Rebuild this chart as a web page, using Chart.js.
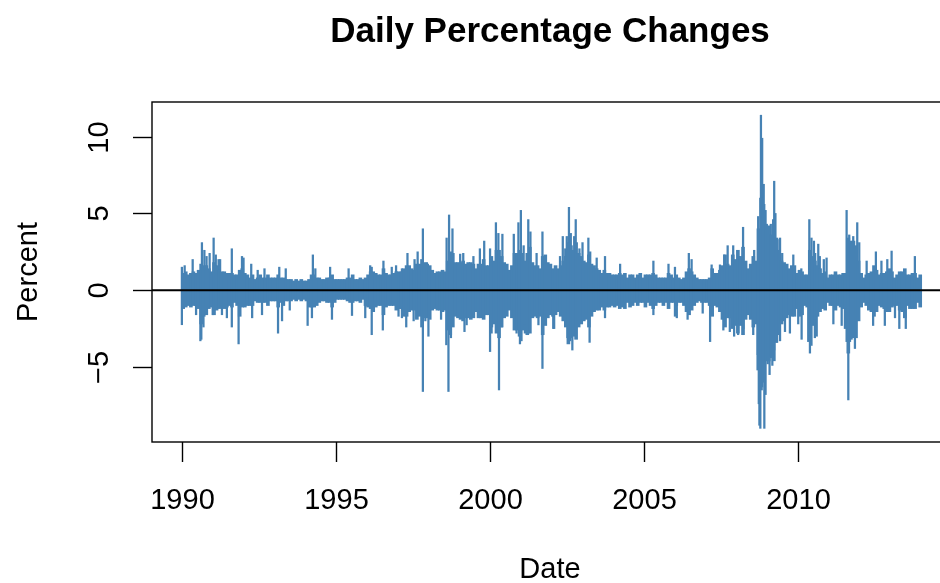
<!DOCTYPE html>
<html>
<head>
<meta charset="utf-8">
<script src="https://cdn.jsdelivr.net/npm/chart.js@4/dist/chart.umd.min.js"></script>
<style>
html,body{margin:0;padding:0;background:#fff;overflow:hidden;width:940px;height:583px;}
#wrap{width:960px;height:583px;}
</style>
</head>
<body>
<div id="wrap"><canvas id="myChart" width="960" height="583"></canvas></div>
<script>
// monthly core band of the daily changes, Jan 1990 .. Dec 2013 (percent)
var startYear = 1990;
var bandUp = [
 1.1,1.2,1.0,1.1,1.2,1.1,1.3,1.7,1.6,1.6,1.4,1.2,
 1.8,1.6,1.3,1.2,1.2,1.1,1.1,1.1,1.0,1.0,1.3,1.4,
 1.1,1.0,0.8,1.0,0.7,0.8,1.0,0.8,0.8,1.0,0.8,0.8,
 0.8,1.0,0.8,0.8,0.7,0.7,0.7,0.6,0.7,0.6,0.7,0.6,
 0.6,0.7,1.0,1.0,0.8,0.8,0.7,0.7,0.8,0.8,1.0,0.7,
 0.7,0.7,0.7,0.7,0.8,0.8,1.0,0.7,0.7,0.8,0.7,0.8,
 1.0,1.2,1.2,1.1,1.0,1.0,1.4,1.1,1.0,1.0,1.1,1.2,
 1.2,1.2,1.4,1.6,1.6,1.4,1.3,1.7,1.7,2.0,1.8,1.7,
 1.6,1.3,1.1,1.2,1.2,1.3,1.2,1.9,2.5,2.4,1.8,1.8,
 1.8,1.9,1.7,1.8,1.8,1.7,1.4,1.7,1.7,2.0,1.6,1.6,
 2.2,1.9,2.6,2.6,2.2,1.8,1.7,1.3,1.6,2.4,2.4,2.6,
 2.4,1.9,2.4,2.8,1.8,1.6,1.6,1.4,2.2,2.3,1.8,1.7,
 1.4,1.6,1.4,1.6,1.9,2.2,3.1,2.9,2.6,3.1,2.4,2.2,
 1.9,1.8,2.3,1.7,1.6,1.4,1.3,1.1,1.3,1.1,1.1,1.0,
 1.0,1.0,1.1,1.0,1.1,0.8,1.0,1.0,0.8,1.0,1.1,0.8,
 1.0,1.0,1.0,1.1,1.0,0.8,0.8,0.8,0.8,1.1,1.0,0.8,
 1.0,0.8,0.7,0.8,1.2,1.4,1.2,1.0,0.8,0.7,0.7,0.7,
 0.7,0.8,1.4,1.1,1.1,1.3,1.6,2.3,1.7,1.6,2.3,2.0,
 2.6,2.2,2.8,1.9,1.4,1.7,2.2,1.9,4.0,6.0,5.6,4.3,
 4.2,3.6,4.6,3.4,2.6,1.9,1.8,1.7,1.4,1.6,1.6,1.1,
 1.3,1.2,1.0,1.0,2.6,2.2,1.9,1.6,1.4,1.1,1.2,0.8,
 1.0,1.0,1.2,1.0,1.0,1.1,1.1,3.4,3.0,3.2,2.9,1.9,
 1.1,0.8,1.0,1.1,1.2,1.6,1.3,1.0,1.1,1.1,1.2,1.4,
 1.2,0.8,1.0,1.2,1.2,1.4,1.0,1.0,1.1,1.1,0.8,1.0
];
var bandDn = [
 -1.2,-1.1,-1.0,-1.1,-1.0,-1.0,-1.2,-2.2,-1.7,-1.6,-1.2,-1.1,
 -1.6,-1.3,-1.2,-1.1,-1.2,-1.1,-1.0,-1.1,-0.8,-1.0,-1.7,-1.1,
 -1.1,-1.0,-1.0,-1.0,-0.7,-0.8,-0.8,-0.8,-0.8,-1.0,-0.7,-0.7,
 -0.7,-1.1,-0.8,-1.0,-0.7,-0.7,-0.7,-0.6,-0.7,-0.6,-0.7,-0.6,
 -0.7,-1.1,-1.1,-1.1,-1.0,-0.8,-0.7,-0.7,-0.8,-0.8,-1.1,-0.8,
 -0.6,-0.6,-0.6,-0.6,-0.7,-0.8,-0.8,-0.7,-0.7,-0.8,-0.6,-1.0,
 -1.1,-1.2,-1.4,-1.1,-1.0,-1.0,-1.6,-1.1,-1.0,-1.0,-1.0,-1.3,
 -1.2,-1.2,-1.7,-1.7,-1.4,-1.3,-1.3,-1.9,-1.7,-2.4,-1.8,-1.8,
 -1.9,-1.3,-1.2,-1.3,-1.3,-1.4,-1.3,-2.6,-2.9,-2.4,-1.7,-1.8,
 -1.9,-2.0,-1.8,-1.8,-1.9,-1.8,-1.4,-1.8,-1.8,-1.9,-1.6,-1.6,
 -2.4,-2.2,-2.8,-3.1,-2.4,-1.8,-1.7,-1.3,-1.8,-2.6,-2.6,-3.0,
 -2.6,-2.2,-2.9,-2.8,-1.8,-1.7,-1.8,-1.7,-2.9,-2.3,-1.8,-1.6,
 -1.7,-1.6,-1.4,-1.7,-2.0,-2.4,-3.5,-3.1,-3.0,-3.2,-2.4,-2.2,
 -2.0,-1.9,-2.4,-1.7,-1.4,-1.3,-1.3,-1.1,-1.3,-1.1,-1.1,-1.0,
 -1.1,-1.0,-1.2,-1.1,-1.2,-0.8,-1.1,-1.0,-0.8,-1.0,-0.8,-0.8,
 -1.1,-0.8,-1.0,-1.2,-1.0,-0.8,-0.8,-1.0,-0.8,-1.2,-0.8,-0.8,
 -1.0,-0.8,-0.8,-1.0,-1.4,-1.6,-1.3,-1.0,-0.8,-0.7,-0.8,-0.8,
 -0.8,-1.0,-1.7,-1.0,-1.1,-1.4,-1.9,-2.4,-1.8,-1.8,-2.5,-2.3,
 -2.8,-2.3,-2.9,-1.9,-1.6,-1.9,-2.4,-2.2,-4.2,-6.5,-6.0,-4.6,
 -4.6,-4.3,-4.6,-3.4,-2.9,-2.2,-2.0,-1.8,-1.6,-1.7,-1.7,-1.2,
 -1.7,-1.6,-1.0,-1.1,-2.9,-2.3,-1.9,-1.7,-1.4,-1.2,-1.3,-0.8,
 -1.0,-1.0,-1.3,-1.0,-1.1,-1.2,-1.2,-4.1,-3.2,-3.1,-3.1,-2.0,
 -1.1,-0.8,-1.0,-1.3,-1.4,-1.7,-1.4,-1.0,-1.1,-1.2,-1.4,-1.4,
 -1.1,-1.0,-1.0,-1.3,-1.4,-1.8,-1.0,-1.2,-1.2,-1.2,-0.8,-1.1
];

// single large days sticking out of the band (decimal year, percent)
var spikeYears = [
 1990.00,1990.09,1990.35,1990.65,1990.73,1990.80,1990.90,1991.03,1991.10,1991.19,1991.24,1991.62,1991.95,1992.00,1992.25,1992.46,1992.68,1993.16,1993.37,
 1990.00,1990.46,1990.60,1990.63,1990.70,1991.00,1991.30,1991.46,1991.62,1991.84,1992.28,1992.60,1993.12,1993.25,1993.50,
 1994.25,1994.33,1994.81,1995.41,1996.11,1996.16,1996.54,1996.81,1996.95,1997.14,1997.32,1997.55,1997.65,1997.82,1997.95,
 1994.08,1994.22,1994.87,1995.52,1995.95,1996.16,1996.52,1997.03,1997.14,1997.28,1997.52,1997.62,1997.82,1998.00,
 1998.59,1998.67,1998.78,1999.03,1999.13,1999.46,1999.67,1999.81,2000.00,2000.19,2000.27,2000.40,2000.77,2000.92,2001.00,2001.09,2001.24,2001.31,2001.51,2001.70,
 1997.90,1998.41,1998.58,1998.65,1998.73,1999.17,1999.24,2000.00,2000.05,2000.29,2000.38,2000.86,2000.97,2001.02,2001.13,2001.24,2001.57,2001.70,2002.05,
 2002.27,2002.36,2002.44,2002.49,2002.56,2002.62,2002.73,2002.78,2002.90,2003.00,2003.19,2003.25,2003.46,2003.73,2004.22,2005.30,2005.79,
 2002.08,2002.51,2002.54,2002.60,2002.67,2002.76,2002.84,2002.92,2003.23,2003.73,2005.30,2006.06,
 2006.00,2006.45,2006.54,2007.19,2007.46,2007.60,2007.71,2007.89,2008.08,2008.21,2008.57,2008.70,2008.79,2008.83,2008.88,2008.94,2009.11,2009.22,2009.26,2009.33,2009.41,2009.48,2009.84,
 2006.00,2006.41,2006.90,2007.14,2007.57,2007.78,2007.92,2008.05,2008.22,2008.54,2008.68,2008.72,2008.74,2008.77,2008.83,2008.90,2008.94,2009.01,2009.07,2009.11,2009.16,2009.22,2009.30,2009.41,2009.57,2009.73,2010.00,
 2010.10,2010.36,2010.43,2010.51,2010.55,2010.65,2010.70,2010.83,2010.92,2011.57,2011.655,2011.71,2011.785,2011.84,2011.915,2011.98,2012.22,2012.52,2012.70,2012.89,2013.03,2013.785,
 2010.11,2010.325,2010.38,2010.43,2010.54,2010.60,2011.14,2011.41,2011.515,2011.57,2011.625,2011.68,2011.73,2011.84,2011.89,2012.43,2012.81,2013.14,2013.28,2013.49
];
var spikeValues = [
 1.5,1.6,2.0,3.1,2.6,2.2,2.4,3.4,2.3,2.0,2.0,2.7,2.2,2.1,1.7,1.3,1.4,1.5,1.4,
 -2.25,-1.6,-3.3,-3.2,-2.4,-1.6,-1.6,-1.8,-2.4,-3.5,-1.8,-1.6,-2.8,-2.0,-1.3,
 2.3,1.4,1.5,1.4,1.6,1.5,1.9,1.5,1.6,1.4,2.4,2.0,2.5,4.0,1.8,
 -2.3,-1.8,-1.9,-1.65,-1.8,-2.9,-2.6,-1.7,-1.8,-2.4,-2.0,-1.8,-6.6,-3.0,
 3.4,4.9,4.0,2.35,2.4,2.2,2.7,3.2,2.7,4.4,3.7,3.65,3.65,4.4,5.2,2.9,4.6,3.8,2.4,3.8,
 -2.0,-1.9,-3.56,-6.6,-3.1,-2.7,-2.26,-4.0,-2.8,-6.5,-2.4,-2.8,-3.5,-3.3,-2.8,-2.8,-2.26,-5.1,-2.5,
 2.2,3.5,2.7,3.5,5.4,3.7,3.5,4.6,2.7,3.1,3.4,2.5,2.1,2.2,1.7,1.9,1.7,
 -2.5,-3.1,-3.35,-3.3,-3.9,-2.6,-2.2,-2.1,-3.4,-1.8,-1.6,-1.8,
 1.5,2.4,2.0,1.65,1.65,2.3,2.9,2.9,2.2,4.1,2.6,4.8,11.4,9.9,6.9,5.2,4.3,7.1,5.0,3.3,3.4,2.4,2.3,
 -1.7,-1.9,-1.5,-3.35,-2.6,-2.7,-3.0,-2.9,-2.5,-2.9,-5.2,-7.4,-8.8,-9.0,-6.3,-9.0,-6.8,-4.8,-5.5,-4.4,-4.9,-3.9,-3.4,-3.3,-2.7,-2.8,-2.2,
 1.4,4.6,3.4,3.2,2.4,3.0,2.2,2.0,2.1,5.2,3.6,3.2,3.5,2.8,4.4,3.1,1.9,2.5,1.9,2.0,2.55,2.2,
 -3.2,-3.35,-4.1,-3.6,-3.1,-3.0,-2.2,-2.3,-2.5,-3.35,-7.15,-3.35,-3.1,-3.8,-2.0,-2.3,-2.3,-1.8,-2.5,-2.5
];

var xTicks = [1990, 1995, 2000, 2005, 2010];
var yTicks = [-5, 0, 5, 10];
var xMin = 1989.03, xMax = 2014.86;
var yMin = -9.89, yMax = 12.26;

var lineColor = '#4682b4';

var bandData = [];
for (var i = 0; i < bandUp.length; i++) {
  bandData.push({x: startYear + (i + 0.5) / 12, y: [bandDn[i], bandUp[i]]});
}
var spikeData = [];
for (var j = 0; j < spikeYears.length; j++) {
  spikeData.push({x: spikeYears[j], y: spikeValues[j]});
}

var font = '"Liberation Sans", Arial, Helvetica, sans-serif';

// R style box, axes and labels
var rAxes = {
  id: 'rAxes',
  afterDatasetsDraw: function(chart) {
    var ctx = chart.ctx;
    var a = chart.chartArea;
    var xs = chart.scales.x, ys = chart.scales.y;
    ctx.save();
    // abline(h = 0)
    ctx.strokeStyle = '#000';
    ctx.lineWidth = 2;
    var y0 = ys.getPixelForValue(0);
    ctx.beginPath();
    ctx.moveTo(a.left, y0);
    ctx.lineTo(a.right, y0);
    ctx.stroke();
    // box
    ctx.lineWidth = 1.4;
    ctx.strokeRect(a.left, a.top, a.right - a.left, a.bottom - a.top);
    // x ticks
    ctx.fillStyle = '#000';
    ctx.font = '29px ' + font;
    ctx.textAlign = 'center';
    ctx.textBaseline = 'alphabetic';
    xTicks.forEach(function(t) {
      var px = Math.round(xs.getPixelForValue(t)) + 0.5;
      ctx.beginPath();
      ctx.moveTo(px, a.bottom);
      ctx.lineTo(px, a.bottom + 20);
      ctx.stroke();
      ctx.fillText(String(t), px, 509);
    });
    // y ticks, labels parallel to the axis
    yTicks.forEach(function(t) {
      var py = Math.round(ys.getPixelForValue(t)) + 0.5;
      ctx.beginPath();
      ctx.moveTo(a.left, py);
      ctx.lineTo(a.left - 19, py);
      ctx.stroke();
      ctx.save();
      ctx.translate(108, py);
      ctx.rotate(-Math.PI / 2);
      ctx.fillText(t < 0 ? '\u2212' + Math.abs(t) : String(t), 0, 0);
      ctx.restore();
    });
    // axis titles
    ctx.fillText('Date', (a.left + a.right) / 2, 578);
    ctx.save();
    ctx.translate(37, (a.top + a.bottom) / 2);
    ctx.rotate(-Math.PI / 2);
    ctx.fillText('Percent', 0, 0);
    ctx.restore();
    // main title
    ctx.font = 'bold 35px ' + font;
    ctx.fillText('Daily Percentage Changes', (a.left + a.right) / 2, 42);
    ctx.restore();
  }
};

var ctx = document.getElementById('myChart').getContext('2d');
var chart = new Chart(ctx, {
  type: 'bar',
  data: {
    datasets: [
      {
        label: 'band',
        data: bandData,
        backgroundColor: lineColor,
        borderWidth: 0,
        barThickness: 3,
        grouped: false
      },
      {
        label: 'spikes',
        data: spikeData,
        backgroundColor: lineColor,
        borderWidth: 0,
        barThickness: 1.6,
        grouped: false
      }
    ]
  },
  options: {
    responsive: false,
    animation: false,
    devicePixelRatio: 1,
    layout: { padding: { left: 152, right: 12, top: 102, bottom: 141 } },
    plugins: { legend: { display: false }, tooltip: { enabled: false }, title: { display: false } },
    scales: {
      x: { type: 'linear', min: xMin, max: xMax, display: false, offset: false },
      y: { type: 'linear', min: yMin, max: yMax, display: false }
    }
  },
  plugins: [rAxes]
});
</script>
</body>
</html>
